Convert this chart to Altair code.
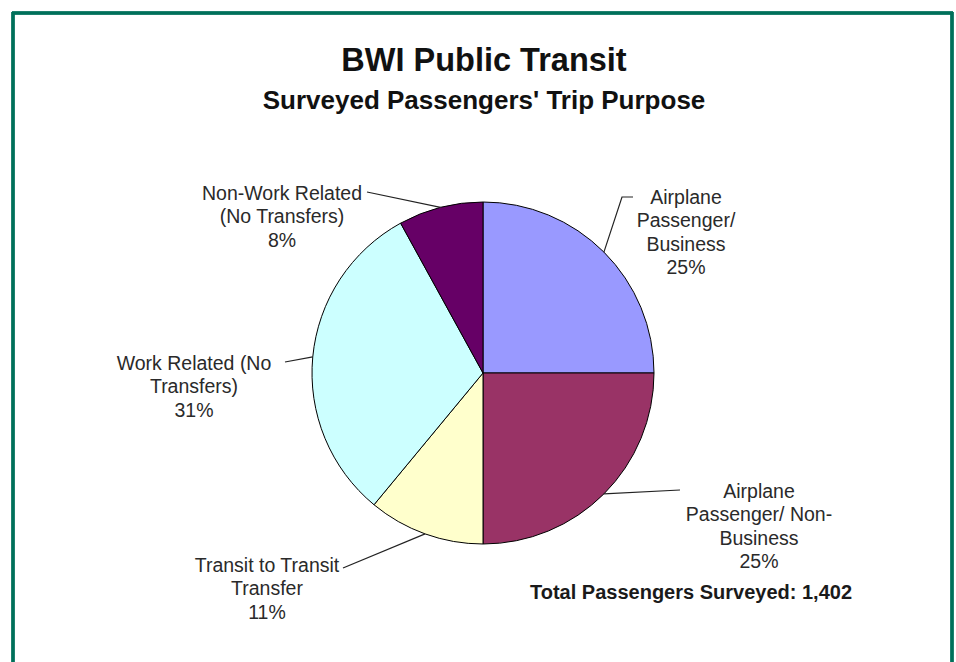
import math
import altair as alt
import pandas as pd

# ---- data ----
categories = [
    "Airplane Passenger/ Business",
    "Airplane Passenger/ Non-Business",
    "Transit to Transit Transfer",
    "Work Related (No Transfers)",
    "Non-Work Related (No Transfers)",
]
label_lines = [
    "Airplane\nPassenger/\nBusiness",
    "Airplane\nPassenger/ Non-\nBusiness",
    "Transit to Transit\nTransfer",
    "Work Related (No\nTransfers)",
    "Non-Work Related\n(No Transfers)",
]
percents = [25, 25, 11, 31, 8]
colors = ["#9999FF", "#993366", "#FFFFCC", "#CCFFFF", "#660066"]
title_text = "BWI Public Transit"
subtitle_text = "Surveyed Passengers' Trip Purpose"
total_text = "Total Passengers Surveyed: 1,402"

# ---- layout (pixels) ----
W, H = 956, 662
CX, CY, R = 483, 373, 171
label_offsets = [(203, -175), (276, 119), (-216, 193), (-289, -9), (-201, -179)]
leader_elbows = [(139, -176), None, None, None, None]
leader_ends = [(150, -176), (197, 117), (-140, 195), (-198, -11), (-116, -181)]

# ---- build tables ----
total = sum(percents)
starts, ends = [], []
acc = 0
for p in percents:
    starts.append(acc / total * 100)
    acc += p
    ends.append(acc / total * 100)

pie_df = pd.DataFrame({
    "category": categories,
    "start": starts,
    "end": ends,
    "cx": [CX] * len(categories),
    "cy": [CY] * len(categories),
})

lab_df = pd.DataFrame({
    "category": categories,
    "text": [f"{t}\n{p}%" for t, p in zip(label_lines, percents)],
    "lx": [CX + dx for dx, dy in label_offsets],
    "ly": [CY + dy for dx, dy in label_offsets],
})

rows = []
for i, (c, s, e) in enumerate(zip(categories, starts, ends)):
    mid = (s + e) / 2 / 100 * 2 * math.pi
    pts = [(CX + R * math.sin(mid), CY - R * math.cos(mid))]
    if leader_elbows[i] is not None:
        pts.append((CX + leader_elbows[i][0], CY + leader_elbows[i][1]))
    pts.append((CX + leader_ends[i][0], CY + leader_ends[i][1]))
    for k, (x, y) in enumerate(pts):
        rows.append({"category": c, "order": k, "x": x, "y": y})
lead_df = pd.DataFrame(rows)

xs = alt.Scale(domain=[0, W], range=[0, W], nice=False, zero=False)
ys = alt.Scale(domain=[0, H], range=[0, H], nice=False, zero=False)

pie = alt.Chart(pie_df).mark_arc(outerRadius=R, stroke="#000000", strokeWidth=1).encode(
    x=alt.X("cx:Q", scale=xs, axis=None),
    y=alt.Y("cy:Q", scale=ys, axis=None),
    theta=alt.Theta("start:Q", scale=alt.Scale(domain=[0, 100], range=[0, 2 * math.pi])),
    theta2="end:Q",
    color=alt.Color("category:N", scale=alt.Scale(domain=categories, range=colors), legend=None),
)

leaders = alt.Chart(lead_df).mark_line(color="#222222", strokeWidth=1.2).encode(
    x=alt.X("x:Q", scale=xs, axis=None),
    y=alt.Y("y:Q", scale=ys, axis=None),
    detail="category:N",
    order="order:Q",
)

labels = alt.Chart(lab_df).mark_text(
    font="Liberation Sans", fontSize=19.5, color="#2a2a2a", lineBreak="\n",
    lineHeight=23.3, align="center", baseline="middle",
).encode(
    x=alt.X("lx:Q", scale=xs, axis=None),
    y=alt.Y("ly:Q", scale=ys, axis=None),
    text="text:N",
)

titles_df = pd.DataFrame({"t": [title_text, subtitle_text, total_text]})
title = alt.Chart(titles_df).transform_filter(alt.datum.t == title_text).mark_text(
    font="Liberation Sans", fontSize=32.5, fontWeight="bold", color="#111111",
    align="center", baseline="alphabetic",
).encode(x=alt.value(484), y=alt.value(71), text="t:N")
subtitle = alt.Chart(titles_df).transform_filter(alt.datum.t == subtitle_text).mark_text(
    font="Liberation Sans", fontSize=26, fontWeight="bold", color="#111111",
    align="center", baseline="alphabetic",
).encode(x=alt.value(484), y=alt.value(109), text="t:N")
total_lbl = alt.Chart(titles_df).transform_filter(alt.datum.t == total_text).mark_text(
    font="Liberation Sans", fontSize=20, fontWeight="bold", color="#1a1a1a",
    align="left", baseline="middle",
).encode(x=alt.value(530), y=alt.value(593), text="t:N")

border_color = "#00705A"
b_left = alt.Chart(titles_df).mark_rule(color=border_color, strokeWidth=3).encode(
    x=alt.value(13), y=alt.value(12), y2=alt.value(H))
b_top = alt.Chart(titles_df).mark_rule(color=border_color, strokeWidth=3).encode(
    x=alt.value(12), x2=alt.value(953), y=alt.value(13))
b_right = alt.Chart(titles_df).mark_rule(color=border_color, strokeWidth=3).encode(
    x=alt.value(952), y=alt.value(12), y2=alt.value(H))

chart = alt.layer(
    pie, leaders, labels, title, subtitle, total_lbl, b_left, b_top, b_right
).properties(
    width=W, height=H,
    autosize=alt.AutoSizeParams(type="none"),
    padding=0,
    background="white",
).configure_view(stroke=None)

chart.save("out.html", embed_options={"renderer": "svg", "actions": False})
